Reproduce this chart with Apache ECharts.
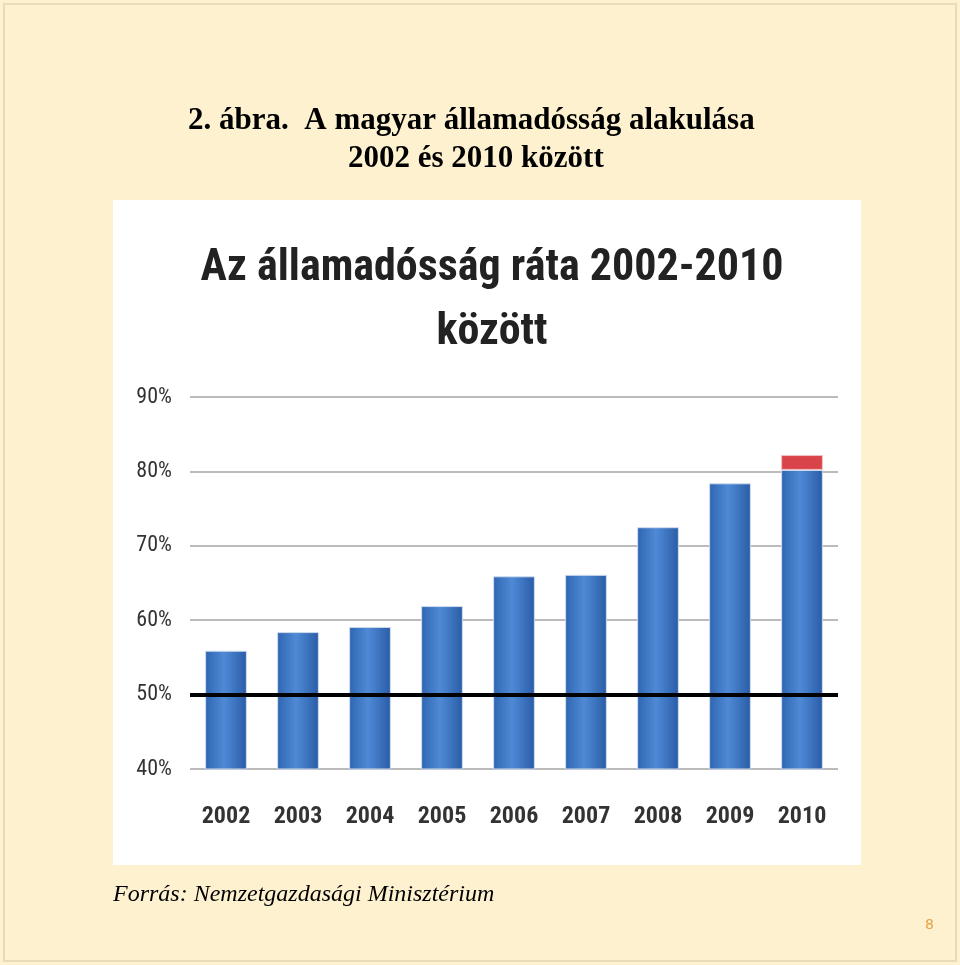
<!DOCTYPE html>
<html>
<head>
<meta charset="utf-8">
<script src="https://cdn.jsdelivr.net/npm/echarts@6/dist/echarts.min.js"></script>
<style>
html,body{margin:0;padding:0;background:#fdf1cf;}
#main{width:960px;height:965px;}
</style>
</head>
<body>
<div id="main"></div>
<script>
// adatok
var years = ['2002','2003','2004','2005','2006','2007','2008','2009','2010'];
var debt = [55.9, 58.4, 59.1, 61.9, 65.9, 66.1, 72.5, 78.4, 80.2];
var extra = ['-', '-', '-', '-', '-', '-', '-', '-', 2.0];
var yTicks = [40, 50, 60, 70, 80, 90];

var narrow = '"Liberation Sans Narrow", "Roboto Condensed", "Open Sans"';

var chart = echarts.init(document.getElementById('main'));
chart.setOption({
    backgroundColor: '#fdf1cf',
    animation: false,
    graphic: [
        {type: 'rect', shape: {x: 4, y: 4, width: 952, height: 957}, style: {fill: 'none', stroke: '#e8dcb8', lineWidth: 2}},
        {type: 'rect', shape: {x: 113, y: 200, width: 748, height: 665}, style: {fill: '#fff'}, z: -1}
    ],
    title: [
        {text: '2. ábra.  A magyar államadósság alakulása', left: 183, top: 100,
         textStyle: {fontFamily: 'Liberation Serif', fontSize: 31, fontWeight: 'bold', color: '#000'}},
        {text: '2002 és 2010 között', left: 343, top: 138,
         textStyle: {fontFamily: 'Liberation Serif', fontSize: 31, fontWeight: 'bold', color: '#000'}},
        {text: 'Az államadósság ráta 2002-2010\nközött', left: 487, top: 232, textAlign: 'center',
         textStyle: {fontFamily: narrow, fontSize: 44, fontWeight: 'bold', color: '#222', lineHeight: 64}},
        {text: 'Forrás: Nemzetgazdasági Minisztérium', left: 108, top: 878,
         textStyle: {fontFamily: 'Liberation Serif', fontSize: 24, fontStyle: 'italic', fontWeight: 'normal', color: '#000'}},
        {text: '8', left: 920, top: 913,
         textStyle: {fontFamily: 'DejaVu Sans', fontSize: 14, fontWeight: 'normal', color: '#e8a040'}}
    ],
    grid: {left: 190, right: 122, top: 397, bottom: 196},
    xAxis: {
        type: 'category', data: years,
        axisLine: {show: false}, axisTick: {show: false},
        axisLabel: {fontFamily: narrow, fontSize: 24, fontWeight: 'bold', color: '#333', margin: 36}
    },
    yAxis: {
        type: 'value', min: 40, max: 90, interval: 10,
        axisLabel: {formatter: '{value}%', fontFamily: narrow, fontSize: 22, color: '#333', margin: 18},
        splitLine: {lineStyle: {color: '#bbb', width: 2}}
    },
    series: [
        {
            type: 'bar', stack: 'a', data: debt, barWidth: '58%',
            itemStyle: {color: new echarts.graphic.LinearGradient(0, 0, 1, 0, [
                {offset: 0, color: '#2e65b0'}, {offset: 0.45, color: '#4f8ad6'}, {offset: 1, color: '#2a5ca6'}
            ]), borderColor: '#d0dcee', borderWidth: 1},
            markLine: {
                silent: true, symbol: 'none', label: {show: false},
                lineStyle: {color: '#000', width: 4, type: 'solid'},
                data: [{yAxis: 50}]
            }
        },
        {
            type: 'bar', stack: 'a', data: extra, barWidth: '58%',
            itemStyle: {color: '#d9444a', borderColor: '#f0c0c0', borderWidth: 1}
        }
    ]
});
</script>
</body>
</html>
